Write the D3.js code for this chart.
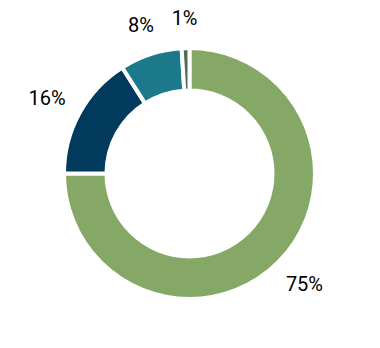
<!DOCTYPE html>
<html>
<head>
<meta charset="utf-8">
<script src="https://cdn.jsdelivr.net/npm/d3@7"></script>
<style>
  body { margin: 0; background: #fff; }
  svg text { font-family: Roboto, "Liberation Sans", sans-serif; }
</style>
</head>
<body>
<div id="chart"></div>
<script>
// data
var categories = ["A", "B", "C", "D"];
var values = [75, 16, 8, 1];
var labels = ["75%", "16%", "8%", "1%"];
var colors = ["#86A867", "#013A5C", "#1C798B", "#4D6B57"];

var width = 380, height = 348;
var cx = 189.5, cy = 173.5;
var outerR = 125.5, innerR = 83;
var labelR = 144;

var svg = d3.select("#chart").append("svg")
    .attr("width", width)
    .attr("height", height);

var g = svg.append("g")
    .attr("transform", "translate(" + cx + "," + cy + ")");

var pie = d3.pie().sort(null).value(function(d, i) { return values[i]; });
var arc = d3.arc().innerRadius(innerR).outerRadius(outerR);

var arcs = pie(categories);

g.selectAll("path.slice")
    .data(arcs)
    .enter().append("path")
    .attr("class", "slice")
    .attr("d", arc)
    .attr("fill", function(d, i) { return colors[i]; })
    .attr("stroke", "#fff")
    .attr("stroke-width", 4)
    .attr("stroke-linejoin", "miter");

// labels outside the ring, pushed out by half their box
var txt = g.selectAll("text.lbl")
    .data(arcs)
    .enter().append("text")
    .attr("class", "lbl")
    .attr("text-anchor", "middle")
    .attr("dominant-baseline", "central")
    .attr("font-size", "20px")
    .attr("fill", "#000")
    .text(function(d, i) { return labels[i]; });

txt.each(function(d) {
    var a = (d.startAngle + d.endAngle) / 2;
    var bb = this.getBBox();
    var sx = Math.sin(a), sy = -Math.cos(a);
    var x = labelR * sx + sx * bb.width / 2;
    var y = labelR * sy + sy * bb.height / 2;
    d3.select(this).attr("x", x).attr("y", y);
});
</script>
</body>
</html>
